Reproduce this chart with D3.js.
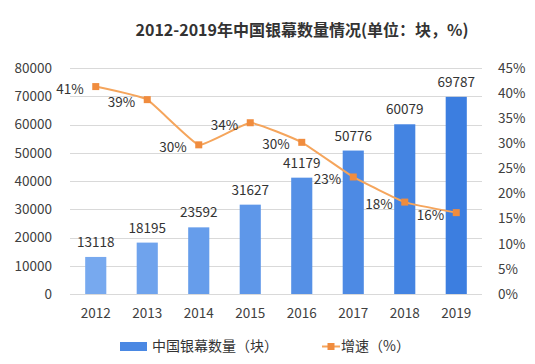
<!DOCTYPE html>
<html>
<head>
<meta charset="utf-8">
<script src="https://cdn.jsdelivr.net/npm/d3@7"></script>
<style>
  body { margin: 0; background: #fff; }
  text { font-family: "Noto Sans CJK SC", "Noto Sans", sans-serif; fill: #333; }
</style>
</head>
<body>
<div id="chart"></div>
<script>
// data
var years = ["2012", "2013", "2014", "2015", "2016", "2017", "2018", "2019"];
var screens = [13118, 18195, 23592, 31627, 41179, 50776, 60079, 69787];
var growth = [41.3, 38.7, 29.7, 34.1, 30.2, 23.3, 18.3, 16.2];
var leftTicks = [0, 10000, 20000, 30000, 40000, 50000, 60000, 70000, 80000];
var rightTicks = [0, 5, 10, 15, 20, 25, 30, 35, 40, 45];

var width = 535, height = 364;
var margin = {top: 68, right: 53, bottom: 70, left: 70};
var numSize = "13.5px";

var svg = d3.select("#chart").append("svg")
    .attr("width", width)
    .attr("height", height);

// title
svg.append("text")
    .attr("x", 302)
    .attr("y", 36)
    .attr("text-anchor", "middle")
    .style("font-size", "16px")
    .style("font-weight", "bold")
    .text("2012-2019年中国银幕数量情况(单位：块，%)");

var x = d3.scaleBand()
    .domain(years)
    .range([margin.left, width - margin.right])
    .paddingInner(0.59)
    .paddingOuter(0.295);

var yLeft = d3.scaleLinear()
    .domain([0, 80000])
    .range([height - margin.bottom, margin.top]);

var yRight = d3.scaleLinear()
    .domain([0, 45])
    .range([height - margin.bottom, margin.top]);

// gridlines
svg.append("g")
    .selectAll("line")
    .data(leftTicks)
    .enter()
    .append("line")
    .attr("x1", margin.left)
    .attr("x2", width - margin.right)
    .attr("y1", function (d) { return Math.round(yLeft(d)) + 0.5; })
    .attr("y2", function (d) { return Math.round(yLeft(d)) + 0.5; })
    .attr("stroke", "#d9d9d9")
    .attr("stroke-width", 1);

// left axis
var leftAxis = svg.append("g")
    .attr("transform", "translate(" + (margin.left - 18) + ",0)")
    .call(d3.axisLeft(yLeft).tickValues(leftTicks).tickSize(0).tickPadding(0)
        .tickFormat(d3.format("d")));
leftAxis.select(".domain").remove();
leftAxis.selectAll("text").style("font-size", numSize).style("fill", "#404040");

// right axis
var rightAxis = svg.append("g")
    .attr("transform", "translate(" + (width - margin.right + 16) + ",0)")
    .call(d3.axisRight(yRight).tickValues(rightTicks).tickSize(0).tickPadding(0)
        .tickFormat(function (d) { return d + "%"; }));
rightAxis.select(".domain").remove();
rightAxis.selectAll("text").style("font-size", numSize).style("fill", "#404040");

// bottom axis
var bottomAxis = svg.append("g")
    .attr("transform", "translate(0," + (height - margin.bottom + 14) + ")")
    .call(d3.axisBottom(x).tickSize(0).tickPadding(0));
bottomAxis.select(".domain").remove();
bottomAxis.selectAll("text").style("font-size", numSize).style("fill", "#404040");

// bars get a little darker each year
var barColor = d3.scaleLinear()
    .domain([0, years.length - 1])
    .range(["#77a9ef", "#3c7ee0"])
    .interpolate(d3.interpolateRgb);

svg.append("g")
    .selectAll("rect")
    .data(screens)
    .enter()
    .append("rect")
    .attr("x", function (d, i) { return x(years[i]); })
    .attr("y", function (d) { return yLeft(d); })
    .attr("width", x.bandwidth())
    .attr("height", function (d) { return yLeft(0) - yLeft(d); })
    .attr("fill", function (d, i) { return barColor(i); });

svg.append("g")
    .selectAll("text")
    .data(screens)
    .enter()
    .append("text")
    .attr("x", function (d, i) { return x(years[i]) + x.bandwidth() / 2; })
    .attr("y", function (d) { return yLeft(d) - 10; })
    .attr("text-anchor", "middle")
    .style("font-size", numSize)
    .text(function (d) { return d; });

// growth line, lightly smoothed
var line = d3.line()
    .x(function (d, i) { return x(years[i]) + x.bandwidth() / 2; })
    .y(function (d) { return yRight(d); })
    .curve(d3.curveCardinal.tension(0.65));

svg.append("path")
    .datum(growth)
    .attr("d", line)
    .attr("fill", "none")
    .attr("stroke", "#f5a55c")
    .attr("stroke-width", 2);

svg.append("g")
    .selectAll("rect")
    .data(growth)
    .enter()
    .append("rect")
    .attr("x", function (d, i) { return x(years[i]) + x.bandwidth() / 2 - 3.5; })
    .attr("y", function (d) { return yRight(d) - 3.5; })
    .attr("width", 7)
    .attr("height", 7)
    .attr("fill", "#f08c3e");

svg.append("g")
    .selectAll("text")
    .data(growth)
    .enter()
    .append("text")
    .attr("x", function (d, i) { return x(years[i]) + x.bandwidth() / 2 - 12; })
    .attr("y", function (d) { return yRight(d) + 7; })
    .attr("text-anchor", "end")
    .style("font-size", numSize)
    .text(function (d) { return Math.round(d) + "%"; });

// legend
var legend = svg.append("g").attr("transform", "translate(0,346)");

legend.append("rect")
    .attr("x", 120)
    .attr("y", -4)
    .attr("width", 27)
    .attr("height", 9)
    .attr("fill", "#4a88e3");

legend.append("text")
    .attr("x", 152)
    .attr("y", 5)
    .style("font-size", "14px")
    .text("中国银幕数量（块）");

legend.append("line")
    .attr("x1", 322)
    .attr("x2", 340)
    .attr("y1", 0.5)
    .attr("y2", 0.5)
    .attr("stroke", "#f5a55c")
    .attr("stroke-width", 2);

legend.append("rect")
    .attr("x", 327.5)
    .attr("y", -3)
    .attr("width", 7)
    .attr("height", 7)
    .attr("fill", "#f08c3e");

legend.append("text")
    .attr("x", 341)
    .attr("y", 5)
    .style("font-size", "14px")
    .text("增速（%）");
</script>
</body>
</html>
